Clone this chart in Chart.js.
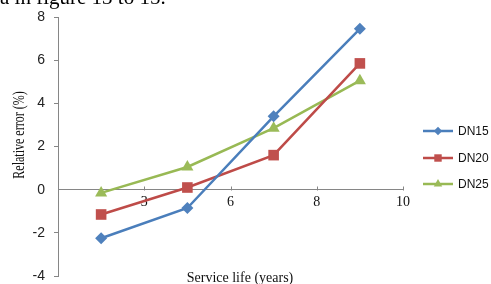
<!DOCTYPE html>
<html>
<head>
<meta charset="utf-8">
<script src="https://cdn.jsdelivr.net/npm/chart.js@4.4.0/dist/chart.umd.min.js"></script>
<style>
  html, body { margin: 0; padding: 0; background: #fff; overflow: hidden; }
  #wrap { position: relative; width: 491px; height: 284px; }
  #cut { position: absolute; left: 0; top: -13px; font: 21px "Liberation Serif", serif; line-height: 20px; color: #000; white-space: nowrap; z-index: 2; }
  canvas { position: absolute; left: 0; top: 0; }
</style>
</head>
<body>
<div id="wrap">
  <div id="cut">a in figure 13 to 15.</div>
  <canvas id="chart" width="491" height="284"></canvas>
</div>
<script>
// values
const tickLabels = ['3', '6', '8', '10'];
const seriesNames = ['DN15', 'DN20', 'DN25'];
const dn15 = [-2.25, -0.85, 3.4, 7.45];
const dn20 = [-1.15, 0.1, 1.6, 5.85];
const dn25 = [-0.15, 1.05, 2.85, 5.05];

const axisColor = '#868686';
const lineColors = ['#4A7EBB', '#BE4B48', '#98B954'];
const markColors = ['#4F81BD', '#C0504D', '#9BBB59'];
const markStyles = ['rectRot', 'rect', 'triangle'];
const markRadius = [6, 7.5, 7];

// points sit in the middle of each category slot
const toPoints = vals => vals.map((v, i) => ({ x: i + 0.5, y: v }));

const datasets = [dn15, dn20, dn25].map((vals, i) => ({
    label: seriesNames[i],
    data: toPoints(vals),
    borderColor: lineColors[i],
    backgroundColor: markColors[i],
    borderWidth: 2.5,
    pointStyle: markStyles[i],
    pointRadius: markRadius[i],
    pointBorderWidth: 0,
    pointBackgroundColor: markColors[i],
    tension: 0
}));

const decor = {
    id: 'decor',
    beforeDatasetsDraw(chart) {
        const { ctx, scales: { x, y } } = chart;
        ctx.save();
        ctx.strokeStyle = axisColor;
        ctx.lineWidth = 1;
        const y0 = Math.round(y.getPixelForValue(0)) + 0.5;
        tickLabels.forEach((t, i) => {
            const px = Math.round(x.getPixelForValue(i + 1)) + 0.5;
            ctx.beginPath();
            ctx.moveTo(px, y0);
            ctx.lineTo(px, y0 - 4);
            ctx.stroke();
        });
        ctx.restore();
    },
    afterDraw(chart) {
        const { ctx } = chart;
        ctx.save();
        ctx.fillStyle = '#111';
        ctx.font = '14px "Liberation Serif", serif';
        ctx.textAlign = 'center';
        ctx.textBaseline = 'middle';
        ctx.fillText('Service life (years)', 240, 278);

        ctx.translate(20, 135);
        ctx.rotate(-Math.PI / 2);
        ctx.scale(0.75, 1);
        ctx.font = '16px "Liberation Serif", serif';
        ctx.fillText('Relative error (%)', 0, 0);
        ctx.restore();

        // legend: line with marker, like the spreadsheet one
        ctx.save();
        const rows = [131, 158, 184];
        chart.data.datasets.forEach((ds, i) => {
            const ly = rows[i];
            ctx.strokeStyle = lineColors[i];
            ctx.lineWidth = 2.5;
            ctx.beginPath();
            ctx.moveTo(423, ly);
            ctx.lineTo(453, ly);
            ctx.stroke();
            ctx.fillStyle = markColors[i];
            ctx.strokeStyle = markColors[i];
            ctx.lineWidth = 0;
            Chart.helpers.drawPoint(ctx, { pointStyle: markStyles[i], radius: markRadius[i] * 0.7, borderWidth: 0 }, 438, ly);
            ctx.fillStyle = '#111';
            ctx.font = '12px "Liberation Sans", sans-serif';
            ctx.textAlign = 'left';
            ctx.textBaseline = 'middle';
            ctx.fillText(ds.label, 458, ly + 1);
        });
        ctx.restore();
    }
};

new Chart(document.getElementById('chart').getContext('2d'), {
    type: 'line',
    data: { datasets },
    options: {
        responsive: false,
        animation: false,
        layout: { padding: { left: 0, right: 88, top: 17, bottom: 8 } },
        plugins: { legend: { display: false }, tooltip: { enabled: false } },
        scales: {
            x: {
                type: 'linear',
                min: 0,
                max: 4,
                position: { y: 0 },
                afterFit: scale => { scale.height = 0; },
                grid: { drawOnChartArea: false, drawTicks: false },
                border: { color: axisColor, width: 1 },
                ticks: {
                    stepSize: 1,
                    autoSkip: false,
                    maxRotation: 0,
                    padding: 4,
                    color: '#111',
                    font: { family: '"Liberation Serif", serif', size: 14 },
                    callback: v => (v >= 1 ? tickLabels[v - 1] : '')
                }
            },
            y: {
                min: -4,
                max: 8,
                afterFit: scale => {
                    scale.width = 58;
                    scale.paddingTop = 0;
                    scale.paddingBottom = 0;
                },
                grid: {
                    drawOnChartArea: false,
                    tickLength: 4,
                    color: c => (c.tick && c.tick.value === 0 ? 'rgba(0,0,0,0)' : axisColor)
                },
                border: { color: axisColor, width: 1 },
                ticks: {
                    stepSize: 2,
                    padding: 9,
                    color: '#222',
                    font: { family: '"Liberation Sans", sans-serif', size: 14 }
                }
            }
        }
    },
    plugins: [decor]
});
</script>
</body>
</html>
